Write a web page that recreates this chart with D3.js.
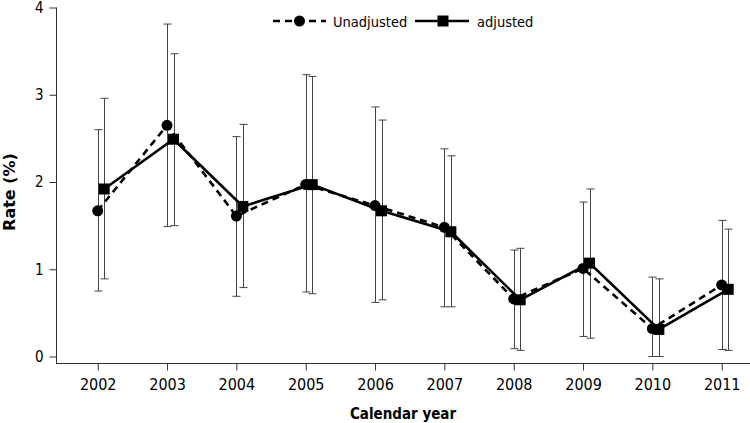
<!DOCTYPE html>
<html><head><meta charset="utf-8">
<script src="https://cdn.jsdelivr.net/npm/d3@7"></script>
<style>body{margin:0;background:#fff}svg{display:block}</style>
</head><body><svg id="c" width="750" height="423"></svg>
<script>
const years = [2002,2003,2004,2005,2006,2007,2008,2009,2010,2011];
const unadjRate  = [1.67,2.65,1.61,1.97,1.73,1.48,0.66,1.01,0.32,0.82];
const unadjLower = [0.75,1.49,0.69,0.74,0.62,0.57,0.09,0.23,0.00,0.08];
const unadjUpper = [2.60,3.81,2.52,3.23,2.86,2.38,1.22,1.77,0.91,1.56];
const adjRate    = [1.92,2.49,1.72,1.97,1.67,1.43,0.65,1.07,0.31,0.77];
const adjLower   = [0.89,1.50,0.79,0.72,0.65,0.57,0.07,0.21,0.00,0.07];
const adjUpper   = [2.96,3.47,2.66,3.21,2.71,2.30,1.24,1.92,0.89,1.46];
const yTicks = [0,1,2,3,4];
const seriesNames = ["Unadjusted","adjusted"];

const svg = d3.select("#c");
const x = d3.scaleLinear().domain([2002,2011]).range([97.7,721.7]);
const y = d3.scaleLinear().domain([0,4]).range([356.5,7.5]);
const tickFont = "'DejaVu Sans Condensed','DejaVu Sans', sans-serif";

// axes
const yAxis = svg.append("g").attr("transform","translate(56.5,0)")
  .call(d3.axisLeft(y).tickValues(yTicks).tickSize(7).tickPadding(6).tickFormat(d3.format("d")));
yAxis.select(".domain").attr("d","M0,"+y(4)+"V363");
yAxis.selectAll(".tick text").attr("font-size",15);
const xAxis = svg.append("g").attr("transform","translate(0,363.5)")
  .call(d3.axisBottom(x).tickValues(years).tickSize(7).tickPadding(8).tickFormat(d3.format("d")));
xAxis.select(".domain").attr("d","M56,0H750");
xAxis.selectAll(".tick text").attr("font-size",16);
svg.selectAll(".tick text").attr("font-family",tickFont).attr("fill","#000");
svg.selectAll(".tick line,.domain").attr("stroke","#333");

svg.append("text").attr("transform","translate(15,192) rotate(-90)")
  .attr("text-anchor","middle").attr("font-family","'DejaVu Sans', sans-serif")
  .attr("font-weight","bold").attr("font-size",16).text("Rate (%)");
svg.append("text").attr("x",403).attr("y",419).attr("text-anchor","middle")
  .attr("font-family","'DejaVu Sans Condensed','DejaVu Sans', sans-serif")
  .attr("font-weight","bold").attr("font-size",15).text("Calendar year");

const off = [0, 6.5];
const series = [
  {rate: unadjRate, lo: unadjLower, hi: unadjUpper, dash: "7,5", marker: "circle"},
  {rate: adjRate, lo: adjLower, hi: adjUpper, dash: null, marker: "square"}
];

// error bars
series.forEach((s,si)=>{
  const g = svg.append("g").attr("stroke","#444").attr("stroke-width",1).attr("fill","none");
  years.forEach((yr,i)=>{
    const cx = Math.round(x(yr)+off[si])+0.5;
    g.append("line").attr("x1",cx).attr("x2",cx).attr("y1",y(s.lo[i])).attr("y2",y(s.hi[i]));
    g.append("line").attr("x1",cx-4).attr("x2",cx+4).attr("y1",y(s.lo[i])).attr("y2",y(s.lo[i]));
    g.append("line").attr("x1",cx-4).attr("x2",cx+4).attr("y1",y(s.hi[i])).attr("y2",y(s.hi[i]));
  });
});

// lines + markers
series.forEach((s,si)=>{
  const line = d3.line().x((d,i)=>x(years[i])+off[si]).y(d=>y(d));
  svg.append("path").datum(s.rate).attr("d",line).attr("fill","none")
    .attr("stroke","#000").attr("stroke-width",2.6).attr("stroke-dasharray",s.dash);
  years.forEach((yr,i)=>{
    const cx = x(yr)+off[si], cy = y(s.rate[i]);
    if (s.marker==="circle") svg.append("circle").attr("cx",cx).attr("cy",cy).attr("r",5.5).attr("fill","#000");
    else svg.append("rect").attr("x",cx-5.5).attr("y",cy-5.5).attr("width",11).attr("height",11).attr("fill","#000");
  });
});

// legend
const lg = svg.append("g");
lg.append("line").attr("x1",273).attr("x2",326).attr("y1",21).attr("y2",21)
  .attr("stroke","#000").attr("stroke-width",2.6).attr("stroke-dasharray","7,5");
lg.append("circle").attr("cx",299.5).attr("cy",21).attr("r",5.5).attr("fill","#000");
lg.append("text").attr("x",333).attr("y",26.5).attr("font-family",tickFont).attr("font-size",14.5).text(seriesNames[0]);
lg.append("line").attr("x1",415).attr("x2",469).attr("y1",21).attr("y2",21)
  .attr("stroke","#000").attr("stroke-width",2.6);
lg.append("rect").attr("x",437.5).attr("y",15.5).attr("width",11).attr("height",11).attr("fill","#000");
lg.append("text").attr("x",477).attr("y",26.5).attr("font-family",tickFont).attr("font-size",14.5).text(seriesNames[1]);
</script></body></html>
